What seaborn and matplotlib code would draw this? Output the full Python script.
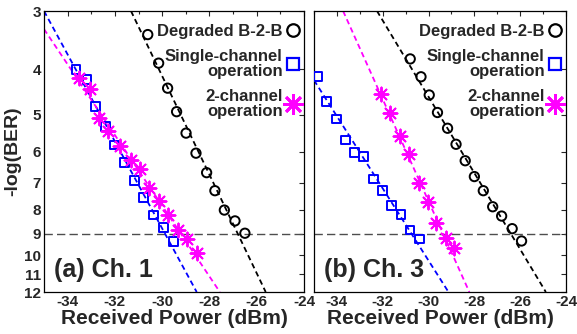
import numpy as np
import pandas as pd
import matplotlib
matplotlib.use('Agg')
import matplotlib.pyplot as plt
from matplotlib.lines import Line2D
import seaborn as sns

# measured points, Ch. 1
ch1_b2b_x = [-30.61, -30.15, -29.77, -29.39, -28.99, -28.57, -28.12, -27.77, -27.37, -26.92, -26.50]
ch1_b2b_y = [3.37, 3.88, 4.39, 4.93, 5.48, 6.05, 6.66, 7.28, 8.01, 8.45, 8.98]
ch1_single_x = [-33.65, -33.18, -32.81, -32.41, -32.03, -31.60, -31.18, -30.80, -30.36, -29.95, -29.53]
ch1_single_y = [4.00, 4.20, 4.81, 5.31, 5.81, 6.34, 6.91, 7.52, 8.21, 8.74, 9.36]
ch1_two_x = [-33.52, -33.05, -32.67, -32.31, -31.79, -31.33, -30.94, -30.55, -30.15, -29.74, -29.32, -28.96, -28.52]
ch1_two_y = [4.17, 4.41, 5.08, 5.42, 5.83, 6.26, 6.54, 7.19, 7.66, 8.21, 8.84, 9.25, 9.88]

# fitted lines, Ch. 1 (end points)
ch1_b2b_fit_x = [-31.32, -25.62]
ch1_b2b_fit_y = [3.0, 12.0]
ch1_single_fit_x = [-35.0, -28.54]
ch1_single_fit_y = [3.0, 12.0]
ch1_two_fit_x = [-35.0, -27.56]
ch1_two_fit_y = [3.28, 12.0]

# measured points, Ch. 3
ch3_b2b_x = [-30.80, -30.33, -29.97, -29.61, -29.17, -28.80, -28.40, -28.00, -27.61, -27.20, -26.81, -26.35, -25.94]
ch3_b2b_y = [3.80, 4.15, 4.54, 4.95, 5.35, 5.79, 6.28, 6.79, 7.28, 7.88, 8.25, 8.78, 9.33]
ch3_single_x = [-34.83, -34.45, -34.01, -33.62, -33.23, -32.83, -32.39, -32.01, -31.60, -31.20, -30.81, -30.40]
ch3_single_y = [4.15, 4.69, 5.11, 5.67, 6.02, 6.16, 6.87, 7.28, 7.84, 8.18, 8.84, 9.24]
ch3_two_x = [-32.06, -31.67, -31.26, -30.84, -30.43, -30.03, -29.67, -29.25, -28.87]
ch3_two_y = [4.52, 4.95, 5.56, 6.08, 7.00, 7.70, 8.53, 9.18, 9.67]

# fitted lines, Ch. 3
ch3_b2b_fit_x = [-32.25, -24.88]
ch3_b2b_fit_y = [3.0, 12.0]
ch3_single_fit_x = [-35.0, -29.13]
ch3_single_fit_y = [4.22, 12.0]
ch3_two_fit_x = [-33.73, -28.22]
ch3_two_fit_y = [3.0, 12.0]

y_ticks = [3, 4, 5, 6, 7, 8, 9, 10, 11, 12]
x_ticks = [-34, -32, -30, -28, -26, -24]
threshold = 9
labels = ['Degraded B-2-B', 'Single-channel\noperation', '2-channel\noperation']
panel_titles = ['(a) Ch. 1', '(b) Ch. 3']

sns.set_style('white')
plt.rcParams['font.family'] = ['Liberation Sans', 'DejaVu Sans']
plt.rcParams['font.weight'] = 'bold'

fig = plt.figure(figsize=(5.77, 3.34), dpi=100)
ax1 = fig.add_axes([44 / 577, 42 / 334, 260 / 577, 281 / 334])
ax2 = fig.add_axes([314 / 577, 42 / 334, 252 / 577, 281 / 334])

star = (8, 2, 0)
styles = [
    dict(color='black', marker='o', s=45),
    dict(color='blue', marker='s', s=40),
    dict(color='magenta', marker=star, s=100),
]

panels = [
    (ax1,
     [(ch1_b2b_x, ch1_b2b_y), (ch1_single_x, ch1_single_y), (ch1_two_x, ch1_two_y)],
     [(ch1_b2b_fit_x, ch1_b2b_fit_y), (ch1_single_fit_x, ch1_single_fit_y), (ch1_two_fit_x, ch1_two_fit_y)]),
    (ax2,
     [(ch3_b2b_x, ch3_b2b_y), (ch3_single_x, ch3_single_y), (ch3_two_x, ch3_two_y)],
     [(ch3_b2b_fit_x, ch3_b2b_fit_y), (ch3_single_fit_x, ch3_single_fit_y), (ch3_two_fit_x, ch3_two_fit_y)]),
]

for i, (ax, pts, fits) in enumerate(panels):
    for (px, py), (fx, fy), st in zip(pts, fits, styles):
        ax.plot(fx, fy, linestyle=(0, (3, 2)), color=st['color'], lw=1.3, zorder=2)
        if st['marker'] == star:
            sns.scatterplot(x=px, y=py, ax=ax, marker=star, s=st['s'],
                            color=st['color'], linewidth=1.4, zorder=3)
        else:
            sns.scatterplot(x=px, y=py, ax=ax, marker=st['marker'], s=st['s'],
                            color=st['color'], facecolor='none', edgecolor=st['color'],
                            linewidth=1.4, zorder=3)
    ax.axhline(threshold, linestyle=(0, (6, 3)), color='0.3', lw=1.0, zorder=1)

    ax.set_yscale('log')
    ax.set_ylim(12, 3)
    ax.set_xlim(-35, -24)
    ax.set_yticks(y_ticks)
    ax.yaxis.set_minor_locator(matplotlib.ticker.NullLocator())
    ax.set_xticks(x_ticks)
    ax.set_xticks(np.arange(-35, -23), minor=True)
    ax.tick_params(which='both', direction='in', top=True, right=True, length=3.5,
                   width=0.8, labelsize=11, pad=2)
    ax.tick_params(which='minor', length=2.5)
    ax.set_xlabel('Received Power (dBm)', fontsize=15, fontweight='bold', labelpad=0)
    for sp in ax.spines.values():
        sp.set_linewidth(0.9)
        sp.set_color('black')
    ax.text(0.04, 0.035, panel_titles[i], transform=ax.transAxes, fontsize=18,
            fontweight='bold', ha='left', va='bottom')

    handles = [
        Line2D([], [], color='black', marker='o', markerfacecolor='none', markersize=9,
               markeredgewidth=1.6, linestyle='none'),
        Line2D([], [], color='blue', marker='s', markerfacecolor='none', markersize=9,
               markeredgewidth=1.6, linestyle='none'),
        Line2D([], [], color='magenta', marker=star, markersize=15,
               markeredgewidth=2.0, linestyle='none'),
    ]
    leg = ax.legend(handles, labels, loc='upper right', bbox_to_anchor=(0.995, 0.965),
                    frameon=False, markerfirst=False,
                    handlelength=0.8, handletextpad=0.2, labelspacing=0.6,
                    borderaxespad=0.0, borderpad=0.2, prop=dict(size=12, weight='bold'))
    for t in leg.get_texts():
        t.set_multialignment('right')
        t.set_linespacing(1.0)

ax1.set_yticklabels([str(v) for v in y_ticks])
ax1.set_ylabel('-log(BER)', fontsize=14, fontweight='bold', labelpad=2)
ax1.set_xticklabels([str(v) for v in x_ticks])
ax2.set_yticklabels([])
ax2.set_ylabel('')
ax2.set_xticklabels([str(v) for v in x_ticks])

fig.savefig('out.png', dpi=100)
